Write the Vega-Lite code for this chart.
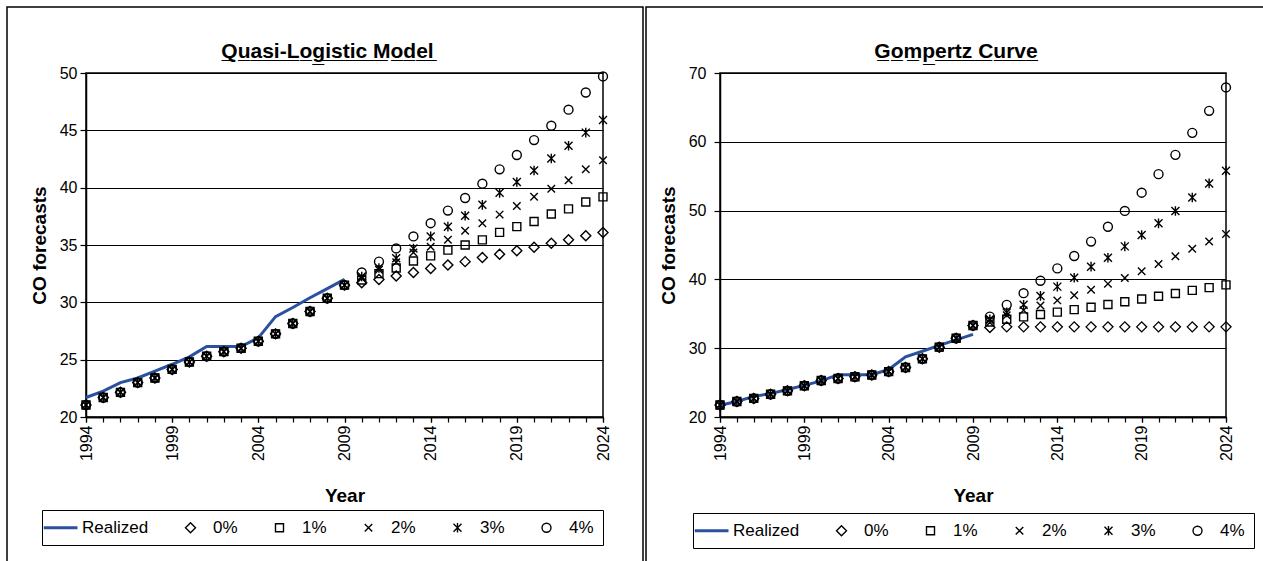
{
  "$schema": "https://vega.github.io/schema/vega-lite/v6.json",
  "padding": {"left": 6, "top": 6, "right": -10, "bottom": -10},
  "background": "white",
  "config": {
    "font": "Liberation Sans",
    "view": {"stroke": "black", "strokeWidth": 1.5},
    "axis": {"labelFont": "Liberation Sans", "labelFontSize": 16, "labelColor": "black", "titleFont": "Liberation Sans", "titleFontSize": 19, "titleFontWeight": "bold", "titleColor": "black", "domainColor": "black", "domainWidth": 1.5, "tickColor": "black", "tickWidth": 1.2, "gridColor": "black", "gridWidth": 1.2, "gridOpacity": 1, "labelOverlap": false},
    "title": {"font": "Liberation Sans", "fontSize": 21, "fontWeight": "bold", "color": "black"},
    "legend": {"labelFont": "Liberation Sans", "labelFontSize": 17, "labelColor": "black"}
  },
  "datasets": {
    "ql": [
      {"year":1994,"series":"Realized","value":21.7},{"year":1995,"series":"Realized","value":22.25},{"year":1996,"series":"Realized","value":23.0},{"year":1997,"series":"Realized","value":23.4},{"year":1998,"series":"Realized","value":24.0},{"year":1999,"series":"Realized","value":24.6},{"year":2000,"series":"Realized","value":25.25},{"year":2001,"series":"Realized","value":26.15},{"year":2002,"series":"Realized","value":26.15},{"year":2003,"series":"Realized","value":26.15},{"year":2004,"series":"Realized","value":26.9},{"year":2005,"series":"Realized","value":28.75},{"year":2006,"series":"Realized","value":29.55},{"year":2007,"series":"Realized","value":30.4},{"year":2008,"series":"Realized","value":31.2},{"year":2009,"series":"Realized","value":32.0},

      {"year":1994,"series":"0%","value":21.05},{"year":1995,"series":"0%","value":21.7},{"year":1996,"series":"0%","value":22.15},{"year":1997,"series":"0%","value":23.0},{"year":1998,"series":"0%","value":23.4},{"year":1999,"series":"0%","value":24.15},{"year":2000,"series":"0%","value":24.8},{"year":2001,"series":"0%","value":25.3},{"year":2002,"series":"0%","value":25.7},{"year":2003,"series":"0%","value":26.0},{"year":2004,"series":"0%","value":26.6},{"year":2005,"series":"0%","value":27.25},{"year":2006,"series":"0%","value":28.15},{"year":2007,"series":"0%","value":29.2},{"year":2008,"series":"0%","value":30.35},{"year":2009,"series":"0%","value":31.5},
      {"year":2010,"series":"0%","value":31.7},{"year":2011,"series":"0%","value":32.0},{"year":2012,"series":"0%","value":32.3},{"year":2013,"series":"0%","value":32.6},{"year":2014,"series":"0%","value":32.95},{"year":2015,"series":"0%","value":33.25},{"year":2016,"series":"0%","value":33.55},{"year":2017,"series":"0%","value":33.9},{"year":2018,"series":"0%","value":34.2},{"year":2019,"series":"0%","value":34.5},{"year":2020,"series":"0%","value":34.8},{"year":2021,"series":"0%","value":35.15},{"year":2022,"series":"0%","value":35.45},{"year":2023,"series":"0%","value":35.8},{"year":2024,"series":"0%","value":36.1},

      {"year":1994,"series":"1%","value":21.05},{"year":1995,"series":"1%","value":21.7},{"year":1996,"series":"1%","value":22.15},{"year":1997,"series":"1%","value":23.0},{"year":1998,"series":"1%","value":23.4},{"year":1999,"series":"1%","value":24.15},{"year":2000,"series":"1%","value":24.8},{"year":2001,"series":"1%","value":25.3},{"year":2002,"series":"1%","value":25.7},{"year":2003,"series":"1%","value":26.0},{"year":2004,"series":"1%","value":26.6},{"year":2005,"series":"1%","value":27.25},{"year":2006,"series":"1%","value":28.15},{"year":2007,"series":"1%","value":29.2},{"year":2008,"series":"1%","value":30.35},{"year":2009,"series":"1%","value":31.5},
      {"year":2010,"series":"1%","value":31.95},{"year":2011,"series":"1%","value":32.5},{"year":2012,"series":"1%","value":33.0},{"year":2013,"series":"1%","value":33.6},{"year":2014,"series":"1%","value":34.05},{"year":2015,"series":"1%","value":34.55},{"year":2016,"series":"1%","value":35.0},{"year":2017,"series":"1%","value":35.45},{"year":2018,"series":"1%","value":36.1},{"year":2019,"series":"1%","value":36.6},{"year":2020,"series":"1%","value":37.05},{"year":2021,"series":"1%","value":37.7},{"year":2022,"series":"1%","value":38.15},{"year":2023,"series":"1%","value":38.75},{"year":2024,"series":"1%","value":39.2},

      {"year":1994,"series":"2%","value":21.05},{"year":1995,"series":"2%","value":21.7},{"year":1996,"series":"2%","value":22.15},{"year":1997,"series":"2%","value":23.0},{"year":1998,"series":"2%","value":23.4},{"year":1999,"series":"2%","value":24.15},{"year":2000,"series":"2%","value":24.8},{"year":2001,"series":"2%","value":25.3},{"year":2002,"series":"2%","value":25.7},{"year":2003,"series":"2%","value":26.0},{"year":2004,"series":"2%","value":26.6},{"year":2005,"series":"2%","value":27.25},{"year":2006,"series":"2%","value":28.15},{"year":2007,"series":"2%","value":29.2},{"year":2008,"series":"2%","value":30.35},{"year":2009,"series":"2%","value":31.5},
      {"year":2010,"series":"2%","value":32.1},{"year":2011,"series":"2%","value":32.85},{"year":2012,"series":"2%","value":33.5},{"year":2013,"series":"2%","value":34.35},{"year":2014,"series":"2%","value":34.85},{"year":2015,"series":"2%","value":35.45},{"year":2016,"series":"2%","value":36.25},{"year":2017,"series":"2%","value":36.9},{"year":2018,"series":"2%","value":37.65},{"year":2019,"series":"2%","value":38.4},{"year":2020,"series":"2%","value":39.2},{"year":2021,"series":"2%","value":39.9},{"year":2022,"series":"2%","value":40.65},{"year":2023,"series":"2%","value":41.6},{"year":2024,"series":"2%","value":42.4},

      {"year":1994,"series":"3%","value":21.05},{"year":1995,"series":"3%","value":21.7},{"year":1996,"series":"3%","value":22.15},{"year":1997,"series":"3%","value":23.0},{"year":1998,"series":"3%","value":23.4},{"year":1999,"series":"3%","value":24.15},{"year":2000,"series":"3%","value":24.8},{"year":2001,"series":"3%","value":25.3},{"year":2002,"series":"3%","value":25.7},{"year":2003,"series":"3%","value":26.0},{"year":2004,"series":"3%","value":26.6},{"year":2005,"series":"3%","value":27.25},{"year":2006,"series":"3%","value":28.15},{"year":2007,"series":"3%","value":29.2},{"year":2008,"series":"3%","value":30.35},{"year":2009,"series":"3%","value":31.5},
      {"year":2010,"series":"3%","value":32.25},{"year":2011,"series":"3%","value":33.0},{"year":2012,"series":"3%","value":33.85},{"year":2013,"series":"3%","value":34.7},{"year":2014,"series":"3%","value":35.75},{"year":2015,"series":"3%","value":36.6},{"year":2016,"series":"3%","value":37.55},{"year":2017,"series":"3%","value":38.5},{"year":2018,"series":"3%","value":39.55},{"year":2019,"series":"3%","value":40.5},{"year":2020,"series":"3%","value":41.5},{"year":2021,"series":"3%","value":42.55},{"year":2022,"series":"3%","value":43.65},{"year":2023,"series":"3%","value":44.8},{"year":2024,"series":"3%","value":45.9},

      {"year":1994,"series":"4%","value":21.05},{"year":1995,"series":"4%","value":21.7},{"year":1996,"series":"4%","value":22.15},{"year":1997,"series":"4%","value":23.0},{"year":1998,"series":"4%","value":23.4},{"year":1999,"series":"4%","value":24.15},{"year":2000,"series":"4%","value":24.8},{"year":2001,"series":"4%","value":25.3},{"year":2002,"series":"4%","value":25.7},{"year":2003,"series":"4%","value":26.0},{"year":2004,"series":"4%","value":26.6},{"year":2005,"series":"4%","value":27.25},{"year":2006,"series":"4%","value":28.15},{"year":2007,"series":"4%","value":29.2},{"year":2008,"series":"4%","value":30.35},{"year":2009,"series":"4%","value":31.5},
      {"year":2010,"series":"4%","value":32.6},{"year":2011,"series":"4%","value":33.55},{"year":2012,"series":"4%","value":34.7},{"year":2013,"series":"4%","value":35.75},{"year":2014,"series":"4%","value":36.9},{"year":2015,"series":"4%","value":38.0},{"year":2016,"series":"4%","value":39.1},{"year":2017,"series":"4%","value":40.35},{"year":2018,"series":"4%","value":41.6},{"year":2019,"series":"4%","value":42.85},{"year":2020,"series":"4%","value":44.15},{"year":2021,"series":"4%","value":45.4},{"year":2022,"series":"4%","value":46.8},{"year":2023,"series":"4%","value":48.3},{"year":2024,"series":"4%","value":49.7}
    ],
    "gc": [
      {"year":1994,"series":"Realized","value":21.7},{"year":1995,"series":"Realized","value":22.25},{"year":1996,"series":"Realized","value":23.0},{"year":1997,"series":"Realized","value":23.4},{"year":1998,"series":"Realized","value":24.0},{"year":1999,"series":"Realized","value":24.6},{"year":2000,"series":"Realized","value":25.25},{"year":2001,"series":"Realized","value":26.15},{"year":2002,"series":"Realized","value":26.15},{"year":2003,"series":"Realized","value":26.15},{"year":2004,"series":"Realized","value":26.9},{"year":2005,"series":"Realized","value":28.75},{"year":2006,"series":"Realized","value":29.55},{"year":2007,"series":"Realized","value":30.4},{"year":2008,"series":"Realized","value":31.2},{"year":2009,"series":"Realized","value":32.0},

      {"year":1994,"series":"0%","value":21.75},{"year":1995,"series":"0%","value":22.25},{"year":1996,"series":"0%","value":22.7},{"year":1997,"series":"0%","value":23.3},{"year":1998,"series":"0%","value":23.8},{"year":1999,"series":"0%","value":24.55},{"year":2000,"series":"0%","value":25.3},{"year":2001,"series":"0%","value":25.6},{"year":2002,"series":"0%","value":25.85},{"year":2003,"series":"0%","value":26.1},{"year":2004,"series":"0%","value":26.6},{"year":2005,"series":"0%","value":27.2},{"year":2006,"series":"0%","value":28.45},{"year":2007,"series":"0%","value":30.15},{"year":2008,"series":"0%","value":31.45},{"year":2009,"series":"0%","value":33.3},
      {"year":2010,"series":"0%","value":33.0},{"year":2011,"series":"0%","value":33.1},{"year":2012,"series":"0%","value":33.1},{"year":2013,"series":"0%","value":33.1},{"year":2014,"series":"0%","value":33.1},{"year":2015,"series":"0%","value":33.1},{"year":2016,"series":"0%","value":33.1},{"year":2017,"series":"0%","value":33.1},{"year":2018,"series":"0%","value":33.1},{"year":2019,"series":"0%","value":33.1},{"year":2020,"series":"0%","value":33.1},{"year":2021,"series":"0%","value":33.1},{"year":2022,"series":"0%","value":33.1},{"year":2023,"series":"0%","value":33.1},{"year":2024,"series":"0%","value":33.1},

      {"year":1994,"series":"1%","value":21.75},{"year":1995,"series":"1%","value":22.25},{"year":1996,"series":"1%","value":22.7},{"year":1997,"series":"1%","value":23.3},{"year":1998,"series":"1%","value":23.8},{"year":1999,"series":"1%","value":24.55},{"year":2000,"series":"1%","value":25.3},{"year":2001,"series":"1%","value":25.6},{"year":2002,"series":"1%","value":25.85},{"year":2003,"series":"1%","value":26.1},{"year":2004,"series":"1%","value":26.6},{"year":2005,"series":"1%","value":27.2},{"year":2006,"series":"1%","value":28.45},{"year":2007,"series":"1%","value":30.15},{"year":2008,"series":"1%","value":31.45},{"year":2009,"series":"1%","value":33.3},
      {"year":2010,"series":"1%","value":33.8},{"year":2011,"series":"1%","value":34.2},{"year":2012,"series":"1%","value":34.55},{"year":2013,"series":"1%","value":34.9},{"year":2014,"series":"1%","value":35.25},{"year":2015,"series":"1%","value":35.6},{"year":2016,"series":"1%","value":35.95},{"year":2017,"series":"1%","value":36.35},{"year":2018,"series":"1%","value":36.75},{"year":2019,"series":"1%","value":37.15},{"year":2020,"series":"1%","value":37.55},{"year":2021,"series":"1%","value":37.95},{"year":2022,"series":"1%","value":38.4},{"year":2023,"series":"1%","value":38.8},{"year":2024,"series":"1%","value":39.2},

      {"year":1994,"series":"2%","value":21.75},{"year":1995,"series":"2%","value":22.25},{"year":1996,"series":"2%","value":22.7},{"year":1997,"series":"2%","value":23.3},{"year":1998,"series":"2%","value":23.8},{"year":1999,"series":"2%","value":24.55},{"year":2000,"series":"2%","value":25.3},{"year":2001,"series":"2%","value":25.6},{"year":2002,"series":"2%","value":25.85},{"year":2003,"series":"2%","value":26.1},{"year":2004,"series":"2%","value":26.6},{"year":2005,"series":"2%","value":27.2},{"year":2006,"series":"2%","value":28.45},{"year":2007,"series":"2%","value":30.15},{"year":2008,"series":"2%","value":31.45},{"year":2009,"series":"2%","value":33.3},
      {"year":2010,"series":"2%","value":34.1},{"year":2011,"series":"2%","value":34.8},{"year":2012,"series":"2%","value":35.5},{"year":2013,"series":"2%","value":36.2},{"year":2014,"series":"2%","value":36.95},{"year":2015,"series":"2%","value":37.7},{"year":2016,"series":"2%","value":38.5},{"year":2017,"series":"2%","value":39.35},{"year":2018,"series":"2%","value":40.2},{"year":2019,"series":"2%","value":41.2},{"year":2020,"series":"2%","value":42.25},{"year":2021,"series":"2%","value":43.35},{"year":2022,"series":"2%","value":44.45},{"year":2023,"series":"2%","value":45.5},{"year":2024,"series":"2%","value":46.6},

      {"year":1994,"series":"3%","value":21.75},{"year":1995,"series":"3%","value":22.25},{"year":1996,"series":"3%","value":22.7},{"year":1997,"series":"3%","value":23.3},{"year":1998,"series":"3%","value":23.8},{"year":1999,"series":"3%","value":24.55},{"year":2000,"series":"3%","value":25.3},{"year":2001,"series":"3%","value":25.6},{"year":2002,"series":"3%","value":25.85},{"year":2003,"series":"3%","value":26.1},{"year":2004,"series":"3%","value":26.6},{"year":2005,"series":"3%","value":27.2},{"year":2006,"series":"3%","value":28.45},{"year":2007,"series":"3%","value":30.15},{"year":2008,"series":"3%","value":31.45},{"year":2009,"series":"3%","value":33.3},
      {"year":2010,"series":"3%","value":34.2},{"year":2011,"series":"3%","value":35.2},{"year":2012,"series":"3%","value":36.3},{"year":2013,"series":"3%","value":37.6},{"year":2014,"series":"3%","value":38.95},{"year":2015,"series":"3%","value":40.25},{"year":2016,"series":"3%","value":41.85},{"year":2017,"series":"3%","value":43.15},{"year":2018,"series":"3%","value":44.8},{"year":2019,"series":"3%","value":46.45},{"year":2020,"series":"3%","value":48.15},{"year":2021,"series":"3%","value":49.95},{"year":2022,"series":"3%","value":51.9},{"year":2023,"series":"3%","value":53.95},{"year":2024,"series":"3%","value":55.8},

      {"year":1994,"series":"4%","value":21.75},{"year":1995,"series":"4%","value":22.25},{"year":1996,"series":"4%","value":22.7},{"year":1997,"series":"4%","value":23.3},{"year":1998,"series":"4%","value":23.8},{"year":1999,"series":"4%","value":24.55},{"year":2000,"series":"4%","value":25.3},{"year":2001,"series":"4%","value":25.6},{"year":2002,"series":"4%","value":25.85},{"year":2003,"series":"4%","value":26.1},{"year":2004,"series":"4%","value":26.6},{"year":2005,"series":"4%","value":27.2},{"year":2006,"series":"4%","value":28.45},{"year":2007,"series":"4%","value":30.15},{"year":2008,"series":"4%","value":31.45},{"year":2009,"series":"4%","value":33.3},
      {"year":2010,"series":"4%","value":34.6},{"year":2011,"series":"4%","value":36.3},{"year":2012,"series":"4%","value":38.0},{"year":2013,"series":"4%","value":39.8},{"year":2014,"series":"4%","value":41.6},{"year":2015,"series":"4%","value":43.4},{"year":2016,"series":"4%","value":45.5},{"year":2017,"series":"4%","value":47.65},{"year":2018,"series":"4%","value":49.95},{"year":2019,"series":"4%","value":52.6},{"year":2020,"series":"4%","value":55.3},{"year":2021,"series":"4%","value":58.1},{"year":2022,"series":"4%","value":61.3},{"year":2023,"series":"4%","value":64.5},{"year":2024,"series":"4%","value":67.9}
    ]
  },
  "bounds": "flush",
  "spacing": 117,
  "resolve": {
    "scale": {"shape": "independent", "stroke": "independent", "size": "independent", "strokeWidth": "independent", "fill": "independent"},
    "legend": {"shape": "independent", "stroke": "independent", "size": "independent", "strokeWidth": "independent", "fill": "independent"}
  },
  "hconcat": [
    {
      "width": 517,
      "height": 344,
      "title": {"text": "Q̲u̲a̲s̲i̲-̲L̲o̲g̲i̲s̲t̲i̲c̲ ̲M̲o̲d̲e̲l̲", "dx": -17, "offset": -55},
      "data": {"name": "ql"},
      "resolve": {"axis": {"x": "independent"}},
      "layer": [
        {
          "transform": [{"filter": "datum.series == 'Realized'"}],
          "mark": {"type": "line", "color": "#2b50a0", "strokeWidth": 3},
          "encoding": {
            "x": {"field": "year", "type": "quantitative", "scale": {"domain": [1994, 2024], "nice": false, "zero": false},
              "axis": {"orient": "bottom", "values": [1994,1995,1996,1997,1998,1999,2000,2001,2002,2003,2004,2005,2006,2007,2008,2009,2010,2011,2012,2013,2014,2015,2016,2017,2018,2019,2020,2021,2022,2023,2024], "labels": false, "tickSize": 5, "grid": false, "title": null}},
            "y": {"field": "value", "type": "quantitative", "scale": {"domain": [20, 50], "nice": false, "zero": false},
              "axis": {"values": [20,25,30,35,40,45,50], "grid": true, "tickSize": 6, "labelPadding": 3, "title": "CO forecasts", "titlePadding": 10}}
          }
        },
        {
          "transform": [{"filter": "datum.series != 'Realized'"}],
          "mark": {"type": "point", "filled": false, "opacity": 1},
          "encoding": {
            "x": {"field": "year", "type": "quantitative",
              "axis": {"orient": "bottom", "values": [1994,1999,2004,2009,2014,2019,2024], "format": "d", "labelAngle": 270, "labelPadding": 3, "tickSize": 5, "grid": false, "title": "Year", "titlePadding": 26}},
            "y": {"field": "value", "type": "quantitative"},
            "shape": {"field": "series", "type": "nominal",
              "scale": {"domain": ["Realized","0%","1%","2%","3%","4%"], "range": ["M-3.5,0L4,0","diamond","square","M-1,-1L1,1M-1,1L1,-1","M-1,-1L1,1M-1,1L1,-1M0,-1.2L0,1.2","circle"]},
              "legend": {"orient": "none", "legendX": -44, "legendY": 437, "direction": "horizontal", "title": null, "strokeColor": "black", "padding": 9, "labelOffset": 14, "columnPadding": 33, "labelFontSize": 17}},
            "stroke": {"field": "series", "type": "nominal",
              "scale": {"domain": ["Realized","0%","1%","2%","3%","4%"], "range": ["#2b50a0","black","black","black","black","black"]}},
            "size": {"field": "series", "type": "nominal",
              "scale": {"type": "ordinal", "domain": ["Realized","0%","1%","2%","3%","4%"], "range": [81, 100, 64, 56, 64, 80]}},
            "strokeWidth": {"field": "series", "type": "nominal",
              "scale": {"type": "ordinal", "domain": ["Realized","0%","1%","2%","3%","4%"], "range": [3, 1.4, 1.4, 1.4, 1.4, 1.4]}}
          }
        },
        {
          "data": {"values": [{"f": 0}]},
          "mark": {"type": "text", "text": ""},
          "encoding": {
            "fill": {"field": "f", "type": "quantitative", "scale": {"domain": [0, 1], "range": ["rgba(255,255,255,0)", "rgba(255,255,255,0)"]},
              "legend": {"orient": "none", "legendX": -79, "legendY": -66, "direction": "vertical", "gradientLength": 563, "gradientThickness": 636, "gradientStrokeColor": "black", "gradientStrokeWidth": 1.5, "title": null, "labelExpr": "''", "padding": 0}}
          }
        }
      ]
    },
    {
      "width": 506,
      "height": 344,
      "title": {"text": "G̲o̲m̲p̲e̲r̲t̲z̲ ̲C̲u̲r̲v̲e̲", "dx": -17, "offset": -55},
      "data": {"name": "gc"},
      "resolve": {"axis": {"x": "independent"}},
      "layer": [
        {
          "transform": [{"filter": "datum.series == 'Realized'"}],
          "mark": {"type": "line", "color": "#2b50a0", "strokeWidth": 3},
          "encoding": {
            "x": {"field": "year", "type": "quantitative", "scale": {"domain": [1994, 2024], "nice": false, "zero": false},
              "axis": {"orient": "bottom", "values": [1994,1995,1996,1997,1998,1999,2000,2001,2002,2003,2004,2005,2006,2007,2008,2009,2010,2011,2012,2013,2014,2015,2016,2017,2018,2019,2020,2021,2022,2023,2024], "labels": false, "tickSize": 5, "grid": false, "title": null}},
            "y": {"field": "value", "type": "quantitative", "scale": {"domain": [20, 70], "nice": false, "zero": false},
              "axis": {"values": [20,30,40,50,60,70], "grid": true, "tickSize": 6, "labelPadding": 8, "title": "CO forecasts", "titlePadding": 10}}
          }
        },
        {
          "transform": [{"filter": "datum.series != 'Realized'"}],
          "mark": {"type": "point", "filled": false, "opacity": 1},
          "encoding": {
            "x": {"field": "year", "type": "quantitative",
              "axis": {"orient": "bottom", "values": [1994,1999,2004,2009,2014,2019,2024], "format": "d", "labelAngle": 270, "labelPadding": 3, "tickSize": 5, "grid": false, "title": "Year", "titlePadding": 26}},
            "y": {"field": "value", "type": "quantitative"},
            "shape": {"field": "series", "type": "nominal",
              "scale": {"domain": ["Realized","0%","1%","2%","3%","4%"], "range": ["M-3.5,0L4,0","diamond","square","M-1,-1L1,1M-1,1L1,-1","M-1,-1L1,1M-1,1L1,-1M0,-1.2L0,1.2","circle"]},
              "legend": {"orient": "none", "legendX": -27, "legendY": 440, "direction": "horizontal", "title": null, "strokeColor": "black", "padding": 9, "labelOffset": 14, "columnPadding": 33, "labelFontSize": 17}},
            "stroke": {"field": "series", "type": "nominal",
              "scale": {"domain": ["Realized","0%","1%","2%","3%","4%"], "range": ["#2b50a0","black","black","black","black","black"]}},
            "size": {"field": "series", "type": "nominal",
              "scale": {"type": "ordinal", "domain": ["Realized","0%","1%","2%","3%","4%"], "range": [81, 100, 64, 56, 64, 80]}},
            "strokeWidth": {"field": "series", "type": "nominal",
              "scale": {"type": "ordinal", "domain": ["Realized","0%","1%","2%","3%","4%"], "range": [3, 1.4, 1.4, 1.4, 1.4, 1.4]}}
          }
        },
        {
          "data": {"values": [{"f": 0}]},
          "mark": {"type": "text", "text": ""},
          "encoding": {
            "fill": {"field": "f", "type": "quantitative", "scale": {"domain": [0, 1], "range": ["rgba(255,255,255,0)", "rgba(255,255,255,0)"]},
              "legend": {"orient": "none", "legendX": -74, "legendY": -66, "direction": "vertical", "gradientLength": 563, "gradientThickness": 626, "gradientStrokeColor": "black", "gradientStrokeWidth": 1.5, "title": null, "labelExpr": "''", "padding": 0}}
          }
        }
      ]
    }
  ]
}
